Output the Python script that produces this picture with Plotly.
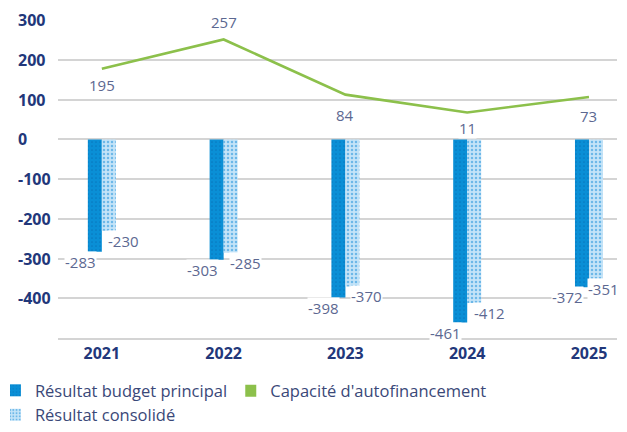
import plotly.graph_objects as go

years = ["2021", "2022", "2023", "2024", "2025"]
budget_principal = [-283, -303, -398, -461, -372]
resultat_consolide = [-230, -285, -370, -412, -351]
caf_line = [178, 252, 113, 68, 107]          # line as drawn
caf_labels = ["195", "257", "84", "11", "73"]  # printed labels
y_ticks = [300, 200, 100, 0, -100, -200, -300, -400]

names = ["Résultat budget principal", "Capacité d'autofinancement", "Résultat consolidé"]

# styles
FONT = "Open Sans"
NAVY = "#22377a"
LABEL = "#5c6891"
DARK = "#0a8fd6"
DARK_DOT = "#0779c0"
LIGHT_BG = "#c4e4f8"
LIGHT_FG = "#6db8e8"
GREEN = "#8cc04b"
GRID = "#d4d4d4"
caf_label_dy = [-16, 17, -20, -15, -19]   # px offsets of the line labels
light_label_dx = [5, 5, 5, 6, -2]         # px offsets of the light-bar labels

fig = go.Figure()
fig.add_trace(go.Bar(x=years, y=budget_principal, name=names[0], legend="legend",
                     marker=dict(color=DARK, line=dict(width=0),
                                 pattern=dict(shape=".", fgcolor=DARK_DOT, bgcolor=DARK,
                                              size=4, solidity=0.15))))
fig.add_trace(go.Scatter(x=[None], y=[None], mode="markers", name=names[1], legend="legend3",
                         marker=dict(symbol="square", size=12, color=GREEN)))
fig.add_trace(go.Bar(x=years, y=resultat_consolide, name=names[2], legend="legend",
                     marker=dict(color=LIGHT_BG, line=dict(width=0),
                                 pattern=dict(shape=".", fgcolor=LIGHT_FG, bgcolor=LIGHT_BG,
                                              size=4, solidity=0.3))))
fig.add_trace(go.Scatter(x=years, y=caf_line, mode="lines", showlegend=False,
                         line=dict(color=GREEN, width=2.6), hoverinfo="skip"))

ann = []
lab_font = dict(family=FONT, size=15, color=LABEL)
for i, v in enumerate(budget_principal):
    ann.append(dict(x=i, y=v, xref="x", yref="y", text=str(v), showarrow=False,
                    xanchor="right", yanchor="middle", xshift=-5, yshift=-10,
                    bgcolor="white", borderpad=0, font=lab_font))
for i, (v, dx) in enumerate(zip(resultat_consolide, light_label_dx)):
    ann.append(dict(x=i, y=v, xref="x", yref="y", text=str(v), showarrow=False,
                    xanchor="left", yanchor="middle", xshift=dx, yshift=-10,
                    bgcolor="white", borderpad=0, font=lab_font))
for i, (v, t, dy) in enumerate(zip(caf_line, caf_labels, caf_label_dy)):
    ann.append(dict(x=i, y=v, xref="x", yref="y", text=t, showarrow=False,
                    xanchor="center", yanchor="middle", yshift=dy,
                    bgcolor="white", borderpad=0, font=lab_font))
for t in y_ticks:
    ann.append(dict(x=0, y=t, xref="paper", yref="y", text=str(t), showarrow=False,
                    xanchor="left", yanchor="middle", xshift=-42, width=42, align="left",
                    font=dict(family=FONT, size=16, color=NAVY, weight="bold")))

leg_font = dict(family=FONT, size=16.5, color="#3a4878")
fig.update_layout(
    template="none",
    width=619, height=416,
    margin=dict(l=50, r=10, t=12, b=0, autoexpand=False),
    paper_bgcolor="white", plot_bgcolor="white",
    barmode="group", bargap=0.77, bargroupgap=0,
    font=dict(family=FONT, color=NAVY),
    annotations=ann,
    legend=dict(orientation="v", x=-0.086, y=0.053, xanchor="left", yanchor="middle",
                font=leg_font, indentation=-15, bgcolor="rgba(0,0,0,0)",
                traceorder="normal", tracegroupgap=0),
    legend3=dict(orientation="h", x=0.335, y=0.0818, xanchor="left", yanchor="middle",
                 font=leg_font, indentation=-15, bgcolor="rgba(0,0,0,0)"),
    xaxis=dict(type="category", range=[-0.36, 4.23], showgrid=False,
               showline=True, linecolor=GRID, linewidth=1.5, ticks="",
               tickfont=dict(family=FONT, size=16, color=NAVY, weight="bold")),
    yaxis=dict(domain=[0.2129, 1], range=[-500, 301], tickmode="array", tickvals=y_ticks,
               ticktext=["" for _ in y_ticks], showticklabels=True,
               ticks="", showline=False,
               showgrid=True, gridcolor=GRID, gridwidth=1.5, zeroline=False),
    showlegend=True,
)

fig.write_html("out.html")
